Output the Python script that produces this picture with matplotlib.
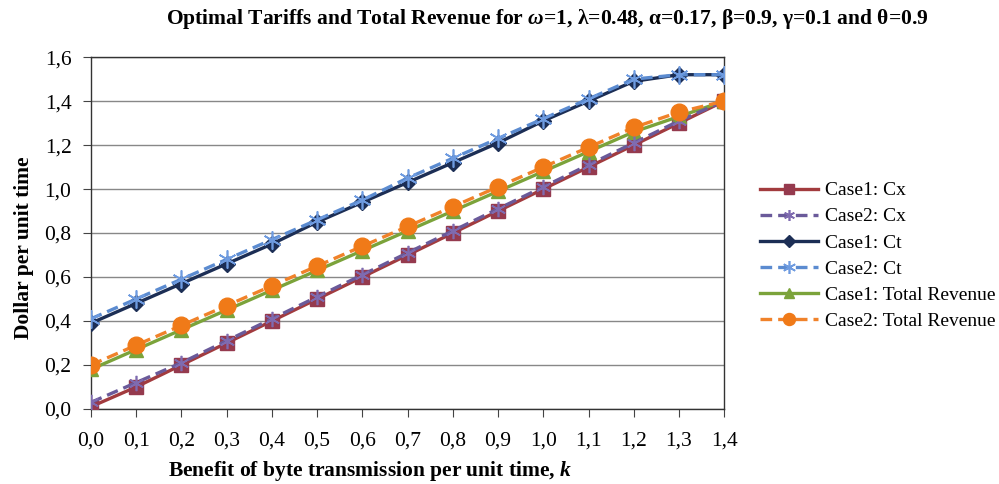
import matplotlib
matplotlib.use("Agg")
import matplotlib.pyplot as plt
from matplotlib.ticker import FuncFormatter

plt.rcParams['font.family'] = ['Liberation Serif', 'DejaVu Serif']
plt.rcParams['mathtext.fontset'] = 'custom'
plt.rcParams['mathtext.rm'] = 'Liberation Serif'
plt.rcParams['mathtext.it'] = 'Liberation Serif:italic:bold'
plt.rcParams['mathtext.bf'] = 'Liberation Serif:bold'

k_values = [0.0, 0.1, 0.2, 0.3, 0.4, 0.5, 0.6, 0.7, 0.8, 0.9, 1.0, 1.1, 1.2, 1.3, 1.4]

case1_cx = [0.01, 0.10, 0.20, 0.30, 0.40, 0.50, 0.60, 0.70, 0.80, 0.90, 1.00, 1.10, 1.20, 1.30, 1.40]
case2_cx = [0.03, 0.12, 0.21, 0.31, 0.41, 0.51, 0.61, 0.71, 0.81, 0.91, 1.01, 1.11, 1.21, 1.31, 1.40]
case1_ct = [0.39, 0.48, 0.57, 0.66, 0.75, 0.85, 0.94, 1.03, 1.12, 1.21, 1.31, 1.40, 1.49, 1.52, 1.52]
case2_ct = [0.41, 0.50, 0.59, 0.68, 0.77, 0.86, 0.95, 1.05, 1.14, 1.23, 1.32, 1.41, 1.50, 1.52, 1.52]
case1_rev = [0.18, 0.27, 0.36, 0.45, 0.54, 0.63, 0.72, 0.81, 0.90, 0.99, 1.08, 1.17, 1.26, 1.33, 1.40]
case2_rev = [0.20, 0.29, 0.38, 0.47, 0.56, 0.65, 0.74, 0.83, 0.92, 1.01, 1.10, 1.19, 1.28, 1.35, 1.40]

series_labels = ["Case1: Cx", "Case2: Cx", "Case1: Ct", "Case2: Ct",
                 "Case1: Total Revenue", "Case2: Total Revenue"]

fig = plt.figure(figsize=(9.99, 4.84), dpi=100)
ax = fig.add_axes([0.091, 0.155, 0.634, 0.727])

asterisk = (6, 2, 0)
dash = (0, (3.5, 1.8))

ax.plot(k_values, case1_cx, color='#A23B3E', lw=2.4, marker='s', ms=10.5,
        mfc='#953A4E', mec='#953A4E', label=series_labels[0], zorder=3)
ax.plot(k_values, case2_cx, color='#6A5A9A', lw=2.4, ls=dash, marker=asterisk, ms=11,
        mec='#7F6BB0', mew=1.2, label=series_labels[1], zorder=4)
ax.plot(k_values, case1_ct, color='#1C2E55', lw=2.4, marker='D', ms=8,
        mfc='#1C2E55', mec='#1C2E55', label=series_labels[2], zorder=3)
ax.plot(k_values, case2_ct, color='#5B8BD0', lw=2.4, ls=dash, marker=asterisk, ms=13,
        mec='#6E9BE0', mew=1.2, label=series_labels[3], zorder=4)
ax.plot(k_values, case1_rev, color='#7BA33A', lw=2.4, marker='^', ms=10,
        mfc='#7BA33A', mec='#7BA33A', label=series_labels[4], zorder=3)
ax.plot(k_values, case2_rev, color='#F0822A', lw=2.4, ls=dash, marker='o', ms=12,
        mfc='#F07A18', mec='#F07A18', label=series_labels[5], zorder=4)

ax.set_xlim(0.0, 1.4)
ax.set_ylim(0.0, 1.6)
ax.set_xticks(k_values)
ax.set_yticks([0.0, 0.2, 0.4, 0.6, 0.8, 1.0, 1.2, 1.4, 1.6])
comma = FuncFormatter(lambda v, p: f"{v:.1f}".replace('.', ','))
ax.xaxis.set_major_formatter(comma)
ax.yaxis.set_major_formatter(comma)
ax.tick_params(axis='both', labelsize=15.5, direction='out', length=6, color='#444444')
ax.tick_params(axis='x', pad=10)
ax.tick_params(axis='y', pad=8)
ax.grid(axis='y', color='#888888', lw=1.0)
ax.set_axisbelow(True)
for s in ax.spines.values():
    s.set_color('#333333')
    s.set_linewidth(1.0)

ax.set_xlabel(r"Benefit of byte transmission per unit time, $k$", fontsize=15.5,
              fontweight='bold')
ax.xaxis.set_label_coords(0.441, -0.142)
ax.set_ylabel("Dollar per unit time", fontsize=15.5, fontweight='bold')
ax.yaxis.set_label_coords(-0.090, 0.457)

fig.suptitle("Optimal Tariffs and Total Revenue for $\\omega$=1, \u03bb=0.48, \u03b1=0.17, \u03b2=0.9, \u03b3=0.1 and \u03b8=0.9",
             fontsize=15.5, fontweight='bold', x=0.548, y=0.985)

leg = ax.legend(loc='center left', bbox_to_anchor=(1.028, 0.435), frameon=False,
                fontsize=14, handlelength=3.0, labelspacing=0.44, handletextpad=0.36,
                markerscale=0.72)

fig.savefig("out.png", dpi=100, facecolor='white')
